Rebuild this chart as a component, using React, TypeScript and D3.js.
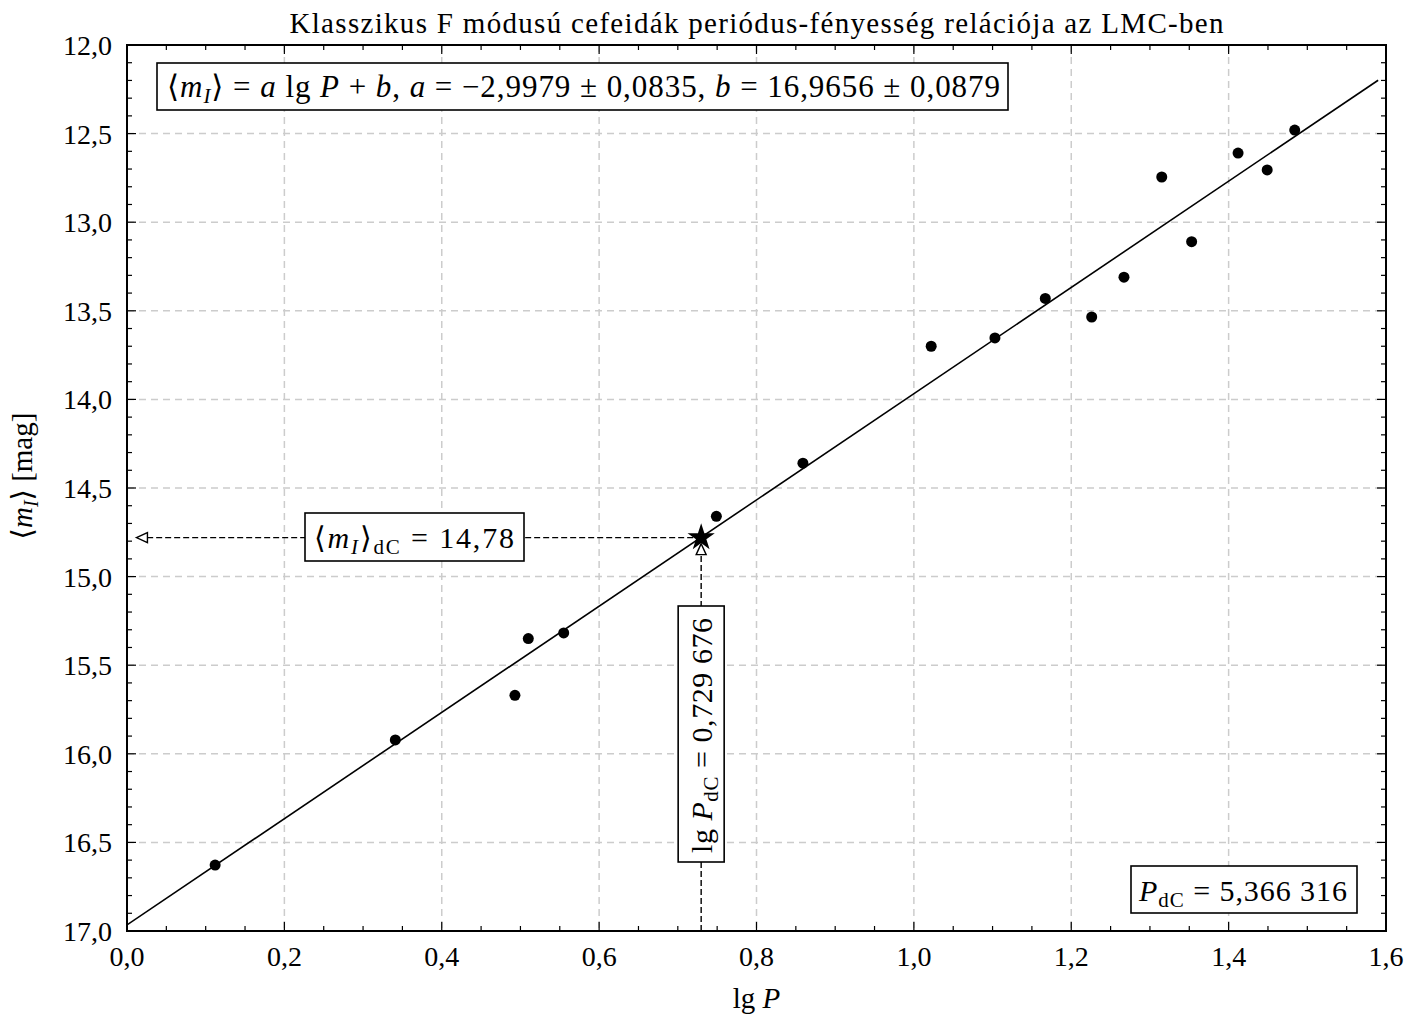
import React from "react";
import * as d3 from "d3";

// lg P and <m_I> values of the LMC classical F-mode cepheids
const lgP = [0.112, 0.341, 0.493, 0.510, 0.555, 0.749, 0.859, 1.022, 1.103, 1.167, 1.226, 1.267, 1.315, 1.353, 1.412, 1.449, 1.484];
const mI = [16.628, 15.922, 15.67, 15.35, 15.318, 14.66, 14.36, 13.70, 13.653, 13.43, 13.535, 13.31, 12.745, 13.11, 12.61, 12.705, 12.48];

const fitA = -2.9979;
const fitB = 16.9656;
const lineEnds = [0, 1.59];
const starX = 0.729676;
const starY = 14.78;

const xTicks = [0, 0.2, 0.4, 0.6, 0.8, 1.0, 1.2, 1.4, 1.6];
const yTicks = [12, 12.5, 13, 13.5, 14, 14.5, 15, 15.5, 16, 16.5, 17];

const W = 1421, H = 1019;
const m = { left: 127, right: 35, top: 45, bottom: 88 };
const font = "'Liberation Serif', 'DejaVu Serif', serif";
const fmt = (v: number) => v.toFixed(1).replace(".", ",");

const App = () => {
  const x = d3.scaleLinear().domain([0, 1.6]).range([m.left, W - m.right]);
  const y = d3.scaleLinear().domain([12, 17]).range([m.top, H - m.bottom]);
  const x0 = x(0), x1 = x(1.6), y0 = y(12), y1 = y(17);
  const xMinor = d3.range(0, 1.6001, 0.05);
  const yMinor = d3.range(12, 17.0001, 0.1);
  const line = d3.line<number>().x(d => x(d)).y(d => y(fitA * d + fitB));
  const sx = x(starX), sy = y(starY);
  const star = d3.symbol().type(d3.symbolStar).size(230)();

  return (
    <svg width={W} height={H} style={{ position: "absolute", left: 0, top: 0, background: "#fff" }} fontFamily={font}>
      <defs>
        <clipPath id="plot"><rect x={x0} y={y0} width={x1 - x0} height={y1 - y0} /></clipPath>
      </defs>
      {/* grid */}
      <g stroke="#cccccc" strokeWidth={1.5} strokeDasharray="7,5">
        {xTicks.slice(1, -1).map(t => <line key={t} x1={x(t)} x2={x(t)} y1={y0} y2={y1} />)}
        {yTicks.slice(1, -1).map(t => <line key={t} x1={x0} x2={x1} y1={y(t)} y2={y(t)} />)}
      </g>
      {/* ticks, inward on all sides */}
      <g stroke="#000" strokeWidth={1.2}>
        {xMinor.map((t, i) => {
          const len = i % 4 === 0 ? 9 : 5;
          return <g key={i}><line x1={x(t)} x2={x(t)} y1={y1} y2={y1 - len} /><line x1={x(t)} x2={x(t)} y1={y0} y2={y0 + len} /></g>;
        })}
        {yMinor.map((t, i) => {
          const len = i % 5 === 0 ? 9 : 5;
          return <g key={i}><line x1={x0} x2={x0 + len} y1={y(t)} y2={y(t)} /><line x1={x1} x2={x1 - len} y1={y(t)} y2={y(t)} /></g>;
        })}
      </g>
      {/* fit line */}
      <path d={line(lineEnds) || ""} fill="none" stroke="#000" strokeWidth={1.6} clipPath="url(#plot)" />
      {/* data points */}
      {lgP.map((p, i) => <circle key={i} cx={x(p)} cy={y(mI[i])} r={5.5} fill="#000" />)}
      {/* guide lines with open arrowheads */}
      <g stroke="#000" strokeWidth={1.4} strokeDasharray="6,3" fill="none">
        <line x1={sx - 8} x2={x(0.012) + 10} y1={sy} y2={sy} />
        <line x1={sx} x2={sx} y1={y1} y2={sy + 14} />
      </g>
      <g stroke="#000" strokeWidth={1.4} fill="#fff">
        <path d={`M${x(0.012)},${sy} l11,-5 l0,10 z`} />
        <path d={`M${sx},${sy + 6} l-5,11 l10,0 z`} />
      </g>
      <path d={star} transform={`translate(${sx},${sy})`} fill="#000" />
      {/* frame */}
      <rect x={x0} y={y0} width={x1 - x0} height={y1 - y0} fill="none" stroke="#000" strokeWidth={2} />
      {/* tick labels */}
      <g fontSize={28} fill="#000">
        {xTicks.map(t => <text key={t} x={x(t)} y={y1 + 35} textAnchor="middle">{fmt(t)}</text>)}
        {yTicks.map(t => <text key={t} x={x0 - 15} y={y(t) + 10} textAnchor="end">{fmt(t)}</text>)}
      </g>
      {/* title and axis labels */}
      <text x={(x0 + x1) / 2} y={33} textAnchor="middle" fontSize={29} textLength={934}>Klasszikus F módusú cefeidák periódus-fényesség relációja az LMC-ben</text>
      <text x={(x0 + x1) / 2} y={1008} textAnchor="middle" fontSize={29}>lg <tspan fontStyle="italic">P</tspan></text>
      <text transform={`translate(32,${476}) rotate(-90)`} textAnchor="middle" fontSize={29}>
        ⟨<tspan fontStyle="italic">m</tspan><tspan fontStyle="italic" fontSize={20} dy={6}>I</tspan><tspan dy={-6}>⟩ [mag]</tspan>
      </text>
      {/* formula box */}
      <rect x={157} y={63} width={851} height={47} fill="#fff" stroke="#000" strokeWidth={1.6} />
      <text x={167} y={97} fontSize={31} textLength={833}>
        ⟨<tspan fontStyle="italic">m</tspan><tspan fontStyle="italic" fontSize={21} dy={6}>I</tspan><tspan dy={-6}>⟩ = </tspan>
        <tspan fontStyle="italic">a</tspan> lg <tspan fontStyle="italic">P</tspan> + <tspan fontStyle="italic">b</tspan>,  <tspan fontStyle="italic">a</tspan> = −2,9979 ± 0,0835,  <tspan fontStyle="italic">b</tspan> = 16,9656 ± 0,0879
      </text>
      {/* m_dC box */}
      <rect x={305} y={513} width={219} height={48} fill="#fff" stroke="#000" strokeWidth={1.6} />
      <text x={314} y={548} fontSize={30} textLength={200}>
        ⟨<tspan fontStyle="italic">m</tspan><tspan fontStyle="italic" fontSize={21} dy={6}>I</tspan><tspan dy={-6}>⟩</tspan><tspan fontSize={21} dy={6}>dC</tspan><tspan dy={-6}> = 14,78</tspan>
      </text>
      {/* lg P_dC box (rotated) */}
      <rect x={sx - 23} y={606} width={46} height={256} fill="#fff" stroke="#000" strokeWidth={1.6} />
      <text transform={`translate(${sx + 11},${853}) rotate(-90)`} fontSize={30} textLength={235}>
        lg <tspan fontStyle="italic">P</tspan><tspan fontSize={21} dy={6}>dC</tspan><tspan dy={-6}> = 0,729 676</tspan>
      </text>
      {/* P_dC box */}
      <rect x={1131} y={866} width={226} height={47} fill="#fff" stroke="#000" strokeWidth={1.6} />
      <text x={1139} y={901} fontSize={30} textLength={208}>
        <tspan fontStyle="italic">P</tspan><tspan fontSize={21} dy={6}>dC</tspan><tspan dy={-6}> = 5,366 316</tspan>
      </text>
    </svg>
  );
};

export default App;
